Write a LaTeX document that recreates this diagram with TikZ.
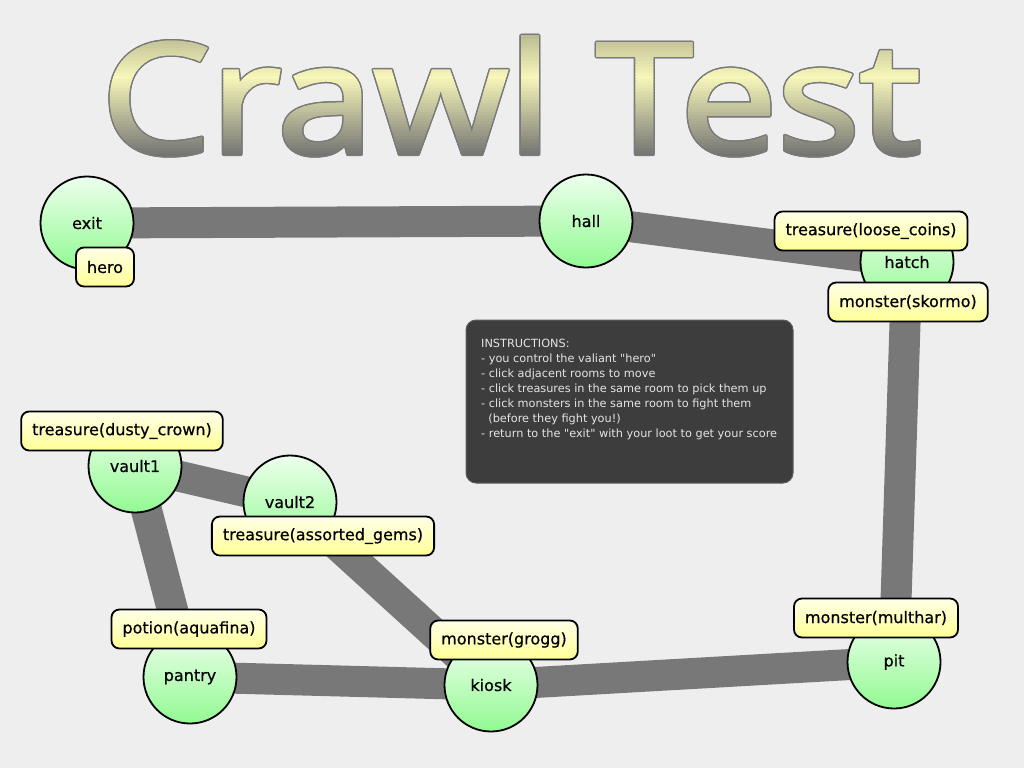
\documentclass[tikz,border=0pt]{standalone}
\usepackage{fontspec}
\usepackage{graphicx}
\setmainfont{DejaVu Sans}
\newfontfamily\titlefam{Open Sans}[FakeBold=2.2]
\newfontfamily\labfam{DejaVu Sans}[FakeBold=0.6]
\newfontfamily\insfam{DejaVu Sans}
\pgfdeclarelayer{bglayer}
\pgfdeclarelayer{edgelayer}
\pgfsetlayers{bglayer,edgelayer,main}
\definecolor{bgc}{RGB}{238,238,238}
\definecolor{edgegray}{RGB}{120,120,120}
\definecolor{roomtop}{RGB}{238,255,238}
\definecolor{roombot}{RGB}{145,250,145}
\definecolor{labtop}{RGB}{255,255,232}
\definecolor{labbot}{RGB}{255,255,150}
\definecolor{insfill}{RGB}{61,61,61}
\definecolor{insline}{RGB}{95,95,95}
\definecolor{instext}{RGB}{228,228,228}
\definecolor{ttop}{RGB}{178,178,142}
\definecolor{tmid}{RGB}{247,247,186}
\definecolor{tbot}{RGB}{112,112,112}
\definecolor{tline}{RGB}{122,122,122}
\newcommand\titletext{\scalebox{1.13}[1]{Crawl Test}}
\tikzset{
  room/.style={circle, draw=black, line width=1.8pt, minimum size=93pt, inner sep=0pt,
    top color=roomtop, bottom color=roombot, font=\labfam\fontsize{16}{19}\selectfont},
  lab/.style={draw=black, line width=1.8pt, rounded corners=8pt, top color=labtop,
    bottom color=labbot, minimum height=39pt, inner xsep=11pt, inner ysep=0pt,
    font=\labfam\fontsize{16}{19}\selectfont},
  corr/.style={draw=edgegray, line width=31pt},
  titlestyle/.style={anchor=base, inner sep=0pt, font=\titlefam\fontsize{153}{160}\selectfont},
  insline/.style={anchor=base west, inner sep=0pt, text=instext, font=\insfam\fontsize{11.3}{14}\selectfont}
}
\begin{document}
\begin{tikzpicture}[x=1pt,y=-1pt]
\begin{pgfonlayer}{bglayer}
\fill[bgc] (0,0) rectangle (1024,768);
\end{pgfonlayer}
\useasboundingbox (0,0) rectangle (1024,768);
% title outline
\foreach \a in {0,30,...,330} {
  \node[titlestyle,text=tline,shift={(\a:1.5)}] (tout\a) at (511,153) {\titletext};
}
% title gradient fill in bands
\foreach \i in {0,...,45} {
  \pgfmathsetmacro{\ya}{28+3*\i}
  \pgfmathsetmacro{\yb}{\ya+3.3}
  \pgfmathsetmacro{\ym}{\ya+1.5}
  \ifdim\ym pt<77pt
    \pgfmathtruncatemacro{\p}{min(100,max(0,100*(\ym-30)/47))}
    \colorlet{bandc}{tmid!\p!ttop}
  \else
    \pgfmathtruncatemacro{\p}{min(100,max(0,100*(\ym-77)/80))}
    \colorlet{bandc}{tbot!\p!tmid}
  \fi
  \begin{scope}
    \clip (0,\ya) rectangle (1024,\yb);
    \node[titlestyle,text=bandc] (tband\i) at (511,153) {\titletext};
  \end{scope}
}
% rooms
\node[room] (exit) at (87,223) {exit};
\node[room] (hall) at (586,221) {hall};
\node[room] (hatch) at (907,262) {hatch};
\node[room] (vault1) at (135,466) {vault1};
\node[room] (vault2) at (290,502) {vault2};
\node[room] (pantry) at (190,677) {pantry};
\node[room] (kiosk) at (491,685) {kiosk};
\node[room] (pit) at (894,662) {pit};
% corridors
\begin{pgfonlayer}{edgelayer}
\draw[corr] (exit.center) -- (hall.center);
\draw[corr] (hall.center) -- (hatch.center);
\draw[corr] (hatch.center) -- (pit.center);
\draw[corr] (pit.center) -- (kiosk.center);
\draw[corr] (kiosk.center) -- (pantry.center);
\draw[corr] (pantry.center) -- (vault1.center);
\draw[corr] (vault1.center) -- (vault2.center);
\draw[corr] (vault2.center) -- (kiosk.center);
\end{pgfonlayer}
% labels
\node[lab] (hero) at (105,267) {hero};
\node[lab] (coins) at (871,231) {treasure(loose\_coins)};
\node[lab] (skormo) at (908,302) {monster(skormo)};
\node[lab] (crown) at (122,431) {treasure(dusty\_crown)};
\node[lab] (gems) at (323,536) {treasure(assorted\_gems)};
\node[lab] (potion) at (189,629) {potion(aquafina)};
\node[lab] (grogg) at (504,640) {monster(grogg)};
\node[lab] (multhar) at (876,618) {monster(multhar)};
% instructions
\node[draw=insline, line width=1pt, fill=insfill, rounded corners=10pt, minimum width=327pt,
  minimum height=163pt, inner sep=0pt] (ins) at (629.5,401.5) {};
\node[insline] (ins1) at (481,347) {INSTRUCTIONS:};
\node[insline] (ins2) at (481,362) {- you control the valiant "hero"};
\node[insline] (ins3) at (481,377) {- click adjacent rooms to move};
\node[insline] (ins4) at (481,392) {- click treasures in the same room to pick them up};
\node[insline] (ins5) at (481,407) {- click monsters in the same room to fight them};
\node[insline] (ins6) at (481,422) {\ \ (before they fight you!)};
\node[insline] (ins7) at (481,437) {- return to the "exit" with your loot to get your score};
\end{tikzpicture}
\end{document}
